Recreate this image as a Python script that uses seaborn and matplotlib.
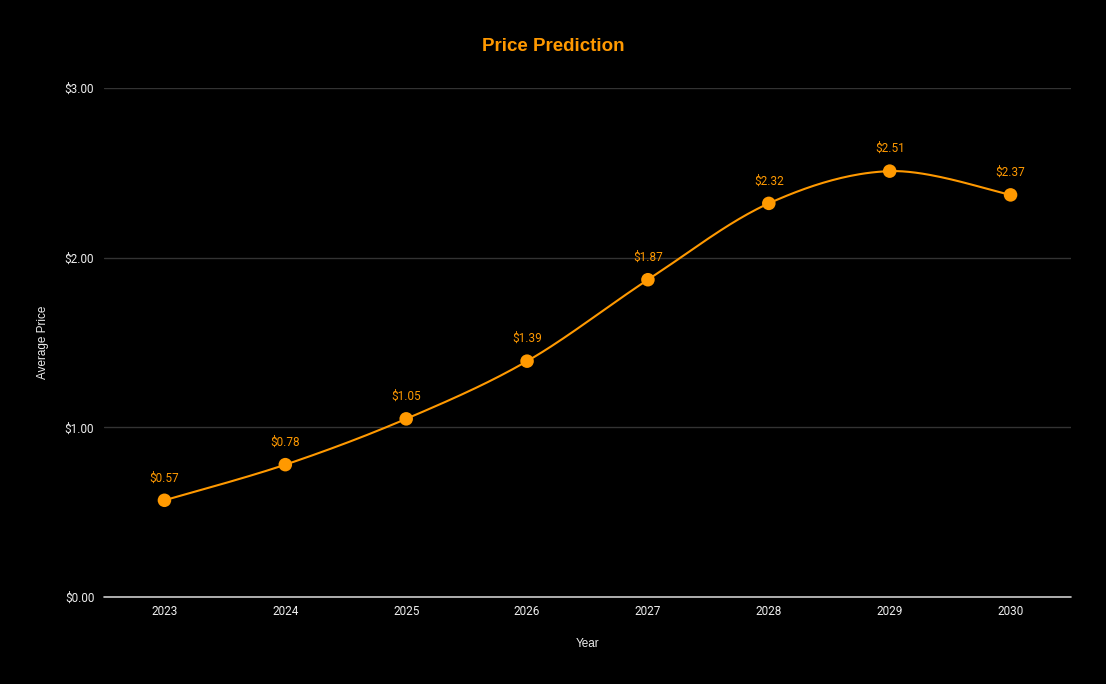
import numpy as np
import pandas as pd
import matplotlib
matplotlib.use("Agg")
import matplotlib.pyplot as plt
import seaborn as sns

years = ["2023", "2024", "2025", "2026", "2027", "2028", "2029", "2030"]
prices = [0.57, 0.78, 1.05, 1.39, 1.87, 2.32, 2.51, 2.37]
y_ticks = [0.0, 1.0, 2.0, 3.0]

ORANGE = "#FF9900"

sns.set_theme(style="dark")
plt.rcParams["font.family"] = ["Roboto", "DejaVu Sans"]

fig = plt.figure(figsize=(11.06, 6.84), dpi=100, facecolor="black")
ax = fig.add_axes([104 / 1106, 87 / 684, 967 / 1106, 509 / 684])
ax.set_facecolor("black")

xs = np.arange(len(years), dtype=float)
ys = np.array(prices)

# smooth curve (cardinal spline through the data points) for styling
def cardinal(x, y, n=40, t=0.5):
    px, py = [], []
    for i in range(len(x) - 1):
        x0, y0 = (x[i - 1], y[i - 1]) if i > 0 else (x[i], y[i])
        x3, y3 = (x[i + 2], y[i + 2]) if i + 2 < len(x) else (x[i + 1], y[i + 1])
        x1, y1, x2, y2 = x[i], y[i], x[i + 1], y[i + 1]
        m1x, m1y = t * (x2 - x0), t * (y2 - y0)
        m2x, m2y = t * (x3 - x1), t * (y3 - y1)
        s = np.linspace(0, 1, n, endpoint=False)
        h00 = 2 * s**3 - 3 * s**2 + 1
        h10 = s**3 - 2 * s**2 + s
        h01 = -2 * s**3 + 3 * s**2
        h11 = s**3 - s**2
        px.extend(h00 * x1 + h10 * m1x + h01 * x2 + h11 * m2x)
        py.extend(h00 * y1 + h10 * m1y + h01 * y2 + h11 * m2y)
    px.append(x[-1]); py.append(y[-1])
    return np.array(px), np.array(py)

cx, cy = cardinal(xs, ys)
sns.lineplot(x=cx, y=cy, ax=ax, color=ORANGE, linewidth=1.5, sort=False, zorder=3)
sns.scatterplot(x=xs, y=ys, ax=ax, color=ORANGE, s=95, edgecolor="none", zorder=4)

for xi, yi in zip(xs, ys):
    ax.annotate(f"${yi:.2f}", (xi, yi), xytext=(0, 11.5), textcoords="offset points",
                ha="center", va="bottom", color=ORANGE, fontsize=8.5, fontfamily="Roboto")

ax.set_xlim(-0.5, len(years) - 0.5)
ax.set_ylim(0, 3)
ax.set_xticks(xs)
ax.set_xticklabels(years)
ax.set_yticks(y_ticks)
ax.set_yticklabels([f"${v:.2f}" for v in y_ticks])
ax.tick_params(axis="both", colors="#EEEEEE", labelsize=8.5, length=0)
ax.tick_params(axis="y", pad=7)
ax.tick_params(axis="x", pad=6)

ax.grid(axis="y", color="#333333", linewidth=1)
ax.grid(axis="x", visible=False)
ax.set_axisbelow(True)
ax.axhline(0, color="#CCCCCC", linewidth=1.2, zorder=2.5, clip_on=False)
for sp in ax.spines.values():
    sp.set_visible(False)

ax.set_xlabel("Year", color="#EEEEEE", fontsize=8.5, fontfamily=["Liberation Sans", "DejaVu Sans"], labelpad=14)
ax.set_ylabel("Average Price", color="#EEEEEE", fontsize=8.5, fontfamily=["Liberation Sans", "DejaVu Sans"], labelpad=11)

fig.text(553 / 1106, 1 - 46.5 / 684, "Price Prediction", color=ORANGE, fontsize=13.5,
         fontweight="bold", ha="center", va="center", fontfamily=["Liberation Sans", "DejaVu Sans"])

fig.savefig("out.png", dpi=100, facecolor="black")
